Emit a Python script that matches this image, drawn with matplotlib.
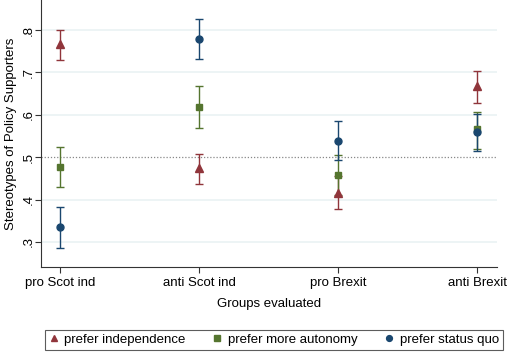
import numpy as np
import matplotlib.pyplot as plt
from matplotlib.lines import Line2D

plt.rcParams['font.family'] = ['Liberation Sans', 'DejaVu Sans']

groups = ["pro Scot ind", "anti Scot ind", "pro Brexit", "anti Brexit"]

# point estimates and 95% CIs for each respondent group
indep = [0.766, 0.474, 0.416, 0.667]
indep_lo = [0.729, 0.436, 0.378, 0.629]
indep_hi = [0.800, 0.508, 0.455, 0.704]

auton = [0.477, 0.618, 0.457, 0.566]
auton_lo = [0.430, 0.570, 0.410, 0.520]
auton_hi = [0.524, 0.667, 0.505, 0.607]

squo = [0.334, 0.779, 0.538, 0.559]
squo_lo = [0.285, 0.731, 0.493, 0.515]
squo_hi = [0.383, 0.826, 0.585, 0.602]

series = [
    ("prefer independence", indep, indep_lo, indep_hi, "#90353B", "^"),
    ("prefer more autonomy", auton, auton_lo, auton_hi, "#55752F", "s"),
    ("prefer status quo", squo, squo_lo, squo_hi, "#1A476F", "o"),
]

fig = plt.figure(figsize=(5.07, 3.53), dpi=100)
ax = fig.add_axes([0.081, 0.244, 0.899, 0.756])

x = np.arange(len(groups))
for yv in [0.3, 0.4, 0.6, 0.7, 0.8]:
    ax.axhline(yv, color="#EAF2F3", lw=1.2, zorder=0)
ax.axhline(0.5, color="#888888", lw=0.9, ls=(0, (1, 1.5)), zorder=1)

handles = []
for name, m, lo, hi, col, mk in series:
    m = np.array(m)
    err = [m - np.array(lo), np.array(hi) - m]
    ax.errorbar(x, m, yerr=err, fmt=mk, color=col, ms=5 if mk != "^" else 5.5,
                elinewidth=1.0, capsize=3.2, capthick=1.0, zorder=3)
    handles.append(Line2D([], [], ls="none", marker=mk, color=col, ms=4.2, label=name))

fs = 9.5
ax.set_xlim(-0.137, 3.14)
ax.set_ylim(0.241, 0.871)
ax.set_xticks(x)
ax.set_xticklabels(groups, fontsize=fs)
ax.set_yticks([0.3, 0.4, 0.5, 0.6, 0.7, 0.8])
ax.set_yticklabels([".3", ".4", ".5", ".6", ".7", ".8"], fontsize=fs, rotation=90, va="center")
ax.set_xlabel("Groups evaluated", fontsize=fs, labelpad=7)
ax.set_ylabel("Stereotypes of Policy Supporters", fontsize=fs, labelpad=4)
for s in ["top", "right"]:
    ax.spines[s].set_visible(False)
for s in ["left", "bottom"]:
    ax.spines[s].set_color("#333333")
    ax.spines[s].set_linewidth(0.8)
ax.tick_params(length=4, width=0.8, color="#333333", pad=3)
ax.tick_params(axis="y", pad=0.5)

leg = fig.legend(handles=handles, loc="center", bbox_to_anchor=(0.54, 0.037), ncol=3,
                 fontsize=fs, frameon=True, fancybox=False, handlelength=0.8,
                 handletextpad=0.4, columnspacing=2.0, borderpad=0.3)
leg.get_frame().set_edgecolor("#333333")
leg.get_frame().set_linewidth(0.8)

fig.savefig("out.png", dpi=100)
